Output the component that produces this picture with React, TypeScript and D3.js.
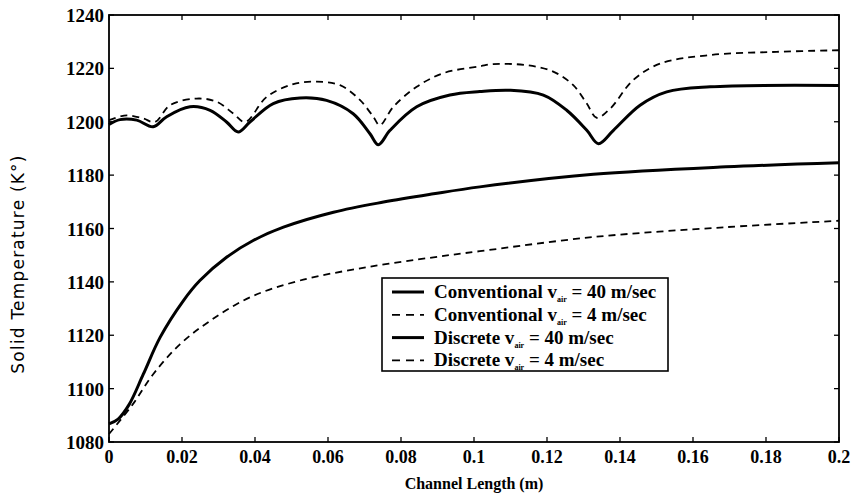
import * as d3 from "d3";

const xTicks = [0, 0.02, 0.04, 0.06, 0.08, 0.1, 0.12, 0.14, 0.16, 0.18, 0.2];
const yTicks = [1080, 1100, 1120, 1140, 1160, 1180, 1200, 1220, 1240];

// Conventional, v_air = 40 m/sec
const conv40: [number, number][] = [
  [0, 1086.8], [0.0025, 1088.6], [0.0055, 1094], [0.0094, 1105.4], [0.014, 1119.2],
  [0.0204, 1133], [0.0249, 1140.5], [0.0322, 1149.2], [0.0395, 1155.5],
  [0.0478, 1160.5], [0.0615, 1166.1], [0.0752, 1169.9], [0.0889, 1173],
  [0.1016, 1175.6], [0.1327, 1180.3], [0.169, 1183.1], [0.2, 1184.6],
];

// Conventional, v_air = 4 m/sec
const conv4: [number, number][] = [
  [0, 1083], [0.0066, 1094.3], [0.0121, 1105.4], [0.0195, 1116.7],
  [0.0277, 1125.4], [0.0386, 1134.2], [0.0523, 1140.5], [0.0706, 1145.5],
  [0.0889, 1149.2], [0.1016, 1151.5], [0.1327, 1156.8], [0.169, 1160.5],
  [0.2, 1162.9],
];

// Discrete, v_air = 40 m/sec
const disc40: [number, number][] = [
  [0, 1199], [0.003, 1200.8], [0.0076, 1200.6], [0.0121, 1198.1],
  [0.0158, 1201.9], [0.0222, 1205.6], [0.0277, 1204.3], [0.0322, 1199.9],
  [0.0354, 1196.2], [0.0386, 1199.9], [0.045, 1206.8], [0.0523, 1208.9],
  [0.0596, 1208], [0.0669, 1203], [0.0715, 1195.5], [0.0738, 1191.4],
  [0.077, 1196.8], [0.0843, 1205.6], [0.0934, 1210], [0.1016, 1211.3],
  [0.1099, 1211.8], [0.119, 1210], [0.1254, 1204.3], [0.1309, 1196.8],
  [0.1341, 1191.8], [0.1382, 1196.8], [0.1455, 1206.2], [0.1528, 1211.2],
  [0.1647, 1213.1], [0.2, 1213.6],
];

// Discrete, v_air = 4 m/sec
const disc4: [number, number][] = [
  [0, 1200.6], [0.0049, 1202.4], [0.0094, 1201.2], [0.0126, 1199.9],
  [0.0167, 1206.2], [0.024, 1208.7], [0.0295, 1207.5], [0.0341, 1203],
  [0.0373, 1199.9], [0.0432, 1209.3], [0.0505, 1214.1], [0.0569, 1215],
  [0.0633, 1213.7], [0.0688, 1208.1], [0.0724, 1201.9], [0.0742, 1198.7],
  [0.0779, 1205.6], [0.0843, 1213.1], [0.0916, 1218.2], [0.1016, 1220.8],
  [0.1053, 1221.6], [0.1144, 1221.2], [0.1217, 1218.8], [0.1272, 1213.7],
  [0.1309, 1206.8], [0.1336, 1201.5], [0.1373, 1204.9], [0.1436, 1215.6],
  [0.151, 1221.8], [0.1647, 1225], [0.1829, 1226.2], [0.2, 1226.8],
];

const legendLabels = [
  { pre: "Conventional v", post: " = 40 m/sec", dash: false },
  { pre: "Conventional v", post: " = 4 m/sec", dash: true },
  { pre: "Discrete v", post: " = 40 m/sec", dash: false },
  { pre: "Discrete v", post: " = 4 m/sec", dash: true },
];

const W = 853;
const H = 494;
const margin = { top: 15, right: 14, bottom: 52, left: 109 };

const serif = "Liberation Serif, Times New Roman, DejaVu Serif, serif";

export default function App() {
  const x = d3.scaleLinear().domain([0, 0.2]).range([margin.left, W - margin.right]);
  const y = d3.scaleLinear().domain([1080, 1240]).range([H - margin.bottom, margin.top]);
  const line = d3
    .line<[number, number]>()
    .x((d) => x(d[0]))
    .y((d) => y(d[1]))
    .curve(d3.curveCatmullRom.alpha(0.5));

  const x0 = margin.left;
  const x1 = W - margin.right;
  const y0 = H - margin.bottom;
  const y1 = margin.top;
  const tk = 5;

  const lx = 382;
  const ly = 278;
  const lw = 286;
  const lh = 93;

  return (
    <svg width={W} height={H} style={{ position: "absolute", left: 0, top: 0, background: "#fff" }}>
      <g fill="none" stroke="#000">
        <path d={line(conv40) ?? ""} strokeWidth={3} />
        <path d={line(conv4) ?? ""} strokeWidth={1.8} strokeDasharray="7,5" />
        <path d={line(disc40) ?? ""} strokeWidth={3} />
        <path d={line(disc4) ?? ""} strokeWidth={1.8} strokeDasharray="7,5" />
      </g>

      <rect x={x0} y={y1} width={x1 - x0} height={y0 - y1} fill="none" stroke="#000" strokeWidth={1.8} />
      <g stroke="#000" strokeWidth={1.3}>
        {xTicks.map((t) => (
          <g key={t}>
            <line x1={x(t)} x2={x(t)} y1={y0} y2={y0 - tk} />
            <line x1={x(t)} x2={x(t)} y1={y1} y2={y1 + tk} />
          </g>
        ))}
        {yTicks.map((t) => (
          <g key={t}>
            <line x1={x0} x2={x0 + tk} y1={y(t)} y2={y(t)} />
            <line x1={x1} x2={x1 - tk} y1={y(t)} y2={y(t)} />
          </g>
        ))}
      </g>

      <g style={{ fontFamily: serif }} fontWeight="bold" fill="#000">
        {xTicks.map((t) => (
          <text key={t} x={x(t)} y={y0 + 21} textAnchor="middle" fontSize={18}>
            {String(t)}
          </text>
        ))}
        {yTicks.map((t) => (
          <text key={t} x={x0 - 5} y={y(t) + 7} textAnchor="end" fontSize={19}>
            {t}
          </text>
        ))}
        <text x={(x0 + x1) / 2} y={489} textAnchor="middle" fontSize={16}>
          Channel Length (m)
        </text>
        <text
          transform={`translate(24,264) rotate(-90)`}
          textAnchor="middle"
          fontSize={17}
          fontWeight="normal"
          letterSpacing={1.2}
          style={{ fontFamily: "DejaVu Sans, sans-serif" }}
        >
          Solid Temperature (K°)
        </text>
      </g>

      <rect x={lx} y={ly} width={lw} height={lh} fill="#fff" stroke="#000" strokeWidth={1.6} />
      {legendLabels.map((l, i) => {
        const cy = ly + 14 + i * 22.8;
        return (
          <g key={i}>
            <line
              x1={lx + 10}
              x2={lx + 42}
              y1={cy}
              y2={cy}
              stroke="#000"
              strokeWidth={l.dash ? 1.8 : 3}
              strokeDasharray={l.dash ? "8,6" : undefined}
            />
            <text x={lx + 52} y={cy + 6} style={{ fontFamily: serif }} fontWeight="bold" fontSize={19} fill="#000">
              {l.pre}
              <tspan dy={4} fontSize={8}>air</tspan>
              <tspan dy={-4}>{l.post}</tspan>
            </text>
          </g>
        );
      })}
    </svg>
  );
}
